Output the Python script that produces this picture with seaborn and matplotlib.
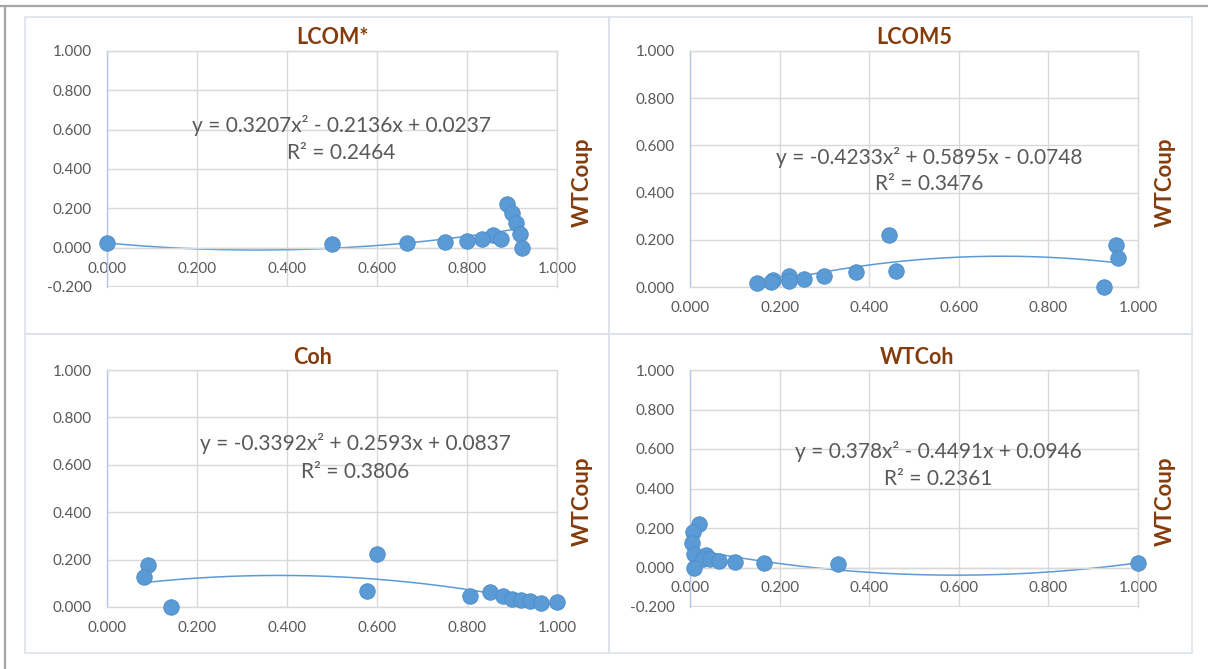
import numpy as np
import pandas as pd
import matplotlib
matplotlib.use("Agg")
import matplotlib.pyplot as plt
from matplotlib.patches import Rectangle
import seaborn as sns

# WTCoup values (shared y of all four panels)
wtcoup = [0.222, 0.178, 0.125, 0.068, 0.062, 0.045, 0.045, 0.035, 0.028, 0.025, 0.022, 0.018, 0.000]

# cohesion metrics (x), same order as wtcoup
lcom_star = [0.889, 0.900, 0.909, 0.917, 0.857, 0.833, 0.875, 0.800, 0.750, 0.000, 0.667, 0.500, 0.923]
lcom5 = [0.445, 0.950, 0.955, 0.460, 0.370, 0.220, 0.300, 0.255, 0.185, 0.220, 0.180, 0.150, 0.925]
coh = [0.600, 0.091, 0.083, 0.577, 0.850, 0.807, 0.880, 0.900, 0.920, 0.940, 1.000, 0.965, 0.143]
wtcoh = [0.020, 0.006, 0.005, 0.008, 0.035, 0.030, 0.045, 0.065, 0.100, 0.165, 1.000, 0.330, 0.010]

# quadratic trendline coefficients (a, b, c) and R^2
coef_lcom_star = [0.3207, -0.2136, 0.0237]
coef_lcom5 = [-0.4233, 0.5895, -0.0748]
coef_coh = [-0.3392, 0.2593, 0.0837]
coef_wtcoh = [0.378, -0.4491, 0.0946]
r2 = [0.2464, 0.3476, 0.3806, 0.2361]

titles = ["LCOM*", "LCOM5", "Coh", "WTCoh"]
eq_text = ["y = 0.3207x² - 0.2136x + 0.0237",
           "y = -0.4233x² + 0.5895x - 0.0748",
           "y = -0.3392x² + 0.2593x + 0.0837",
           "y = 0.378x² - 0.4491x + 0.0946"]
x_ticks = [0.0, 0.2, 0.4, 0.6, 0.8, 1.0]

sns.set_theme(style="white")
plt.rcParams['font.family'] = ['Lato', 'DejaVu Sans']

W, H = 1208, 669
fig = plt.figure(figsize=(W / 100, H / 100), dpi=100)

blue = "#5B9BD5"
brown = "#843C0C"
txt = "#595959"
grid = "#D9D9D9"

# outer frame lines
fig.add_artist(plt.Line2D([0, 1], [1 - 6 / H, 1 - 6 / H], color="#A6A6A6", lw=1.6))
fig.add_artist(plt.Line2D([5 / W, 5 / W], [0, 1 - 6 / H], color="#A6A6A6", lw=1.6))

# panel boxes (px: left, top, right, bottom)
boxes = [(25, 17, 609, 334), (609, 17, 1192, 334), (25, 334, 609, 653), (609, 334, 1192, 653)]
for l, t, r, b in boxes:
    fig.add_artist(Rectangle((l / W, 1 - b / H), (r - l) / W, (b - t) / H,
                             transform=fig.transFigure, fill=False, edgecolor="#DDE2EA", lw=1.2))

# axes placements (px: x0, x1, ytop, ybottom) and y ranges
places = [(107, 557, 51, 287), (690, 1138, 51, 287), (107, 557, 370, 607), (690, 1138, 370, 607)]
ymins = [-0.2, 0.0, 0.0, -0.2]
xs = [lcom_star, lcom5, coh, wtcoh]
coefs = [coef_lcom_star, coef_lcom5, coef_coh, coef_wtcoh]
title_pos = [(332, 38), (914, 38), (313, 358), (917, 358)]
eq_pos = [(341, 125, 153), (929, 157, 184), (355, 444, 472), (938, 451, 479)]
ylab_x = [582, 1165, 582, 1165]

for i in range(4):
    x0, x1, yt, yb = places[i]
    ax = fig.add_axes([x0 / W, 1 - yb / H, (x1 - x0) / W, (yb - yt) / H])
    df = pd.DataFrame({"x": xs[i], "y": wtcoup})

    # trendline across the data range
    xf = np.linspace(df["x"].min(), df["x"].max(), 200)
    yf = np.polyval(coefs[i], xf)
    sns.lineplot(x=xf, y=yf, ax=ax, color=blue, lw=1.1, zorder=2)
    sns.scatterplot(data=df, x="x", y="y", ax=ax, s=125, color=blue,
                    edgecolor="#4E8CC8", linewidth=0.6, zorder=3, clip_on=False)

    ax.set_xlim(0, 1)
    ax.set_ylim(ymins[i], 1)
    ax.set_xticks(x_ticks)
    ax.set_yticks(np.round(np.arange(ymins[i], 1.01, 0.2), 1))
    ax.xaxis.set_major_formatter(matplotlib.ticker.FormatStrFormatter("%.3f"))
    ax.yaxis.set_major_formatter(matplotlib.ticker.FormatStrFormatter("%.3f"))
    ax.grid(True, color=grid, lw=1)
    ax.tick_params(axis="both", length=0, labelsize=11, labelcolor=txt)
    ax.tick_params(axis="x", pad=10)
    ax.tick_params(axis="y", pad=11)
    ax.set_xlabel("")
    ax.set_ylabel("")
    for s in ["top", "right"]:
        ax.spines[s].set_color(grid)
        ax.spines[s].set_linewidth(1)
    ax.spines["left"].set_color("#B4C7E7")
    ax.spines["left"].set_linewidth(1)
    ax.spines["bottom"].set_position(("data", 0))
    ax.spines["bottom"].set_color(grid)
    ax.spines["bottom"].set_linewidth(1)
    if ymins[i] < 0:
        ax.axhline(ymins[i], color=grid, lw=1.5, zorder=0)

    tx, ty = title_pos[i]
    fig.text(tx / W, 1 - ty / H, titles[i], ha="center", va="center",
             fontsize=15.5, fontweight="bold", color=brown)
    ex, ey1, ey2 = eq_pos[i]
    fig.text(ex / W, 1 - ey1 / H, eq_text[i], ha="center", va="center", fontsize=15, color=txt)
    fig.text(ex / W, 1 - ey2 / H, "R² = %.4f" % r2[i], ha="center", va="center", fontsize=15, color=txt)
    fig.text(ylab_x[i] / W, 1 - ((yt + yb) / 2 + 13) / H, "WTCoup", rotation=90, ha="center",
             va="center", fontsize=16, fontweight="bold", color=brown)

fig.savefig("out.png", dpi=100)
